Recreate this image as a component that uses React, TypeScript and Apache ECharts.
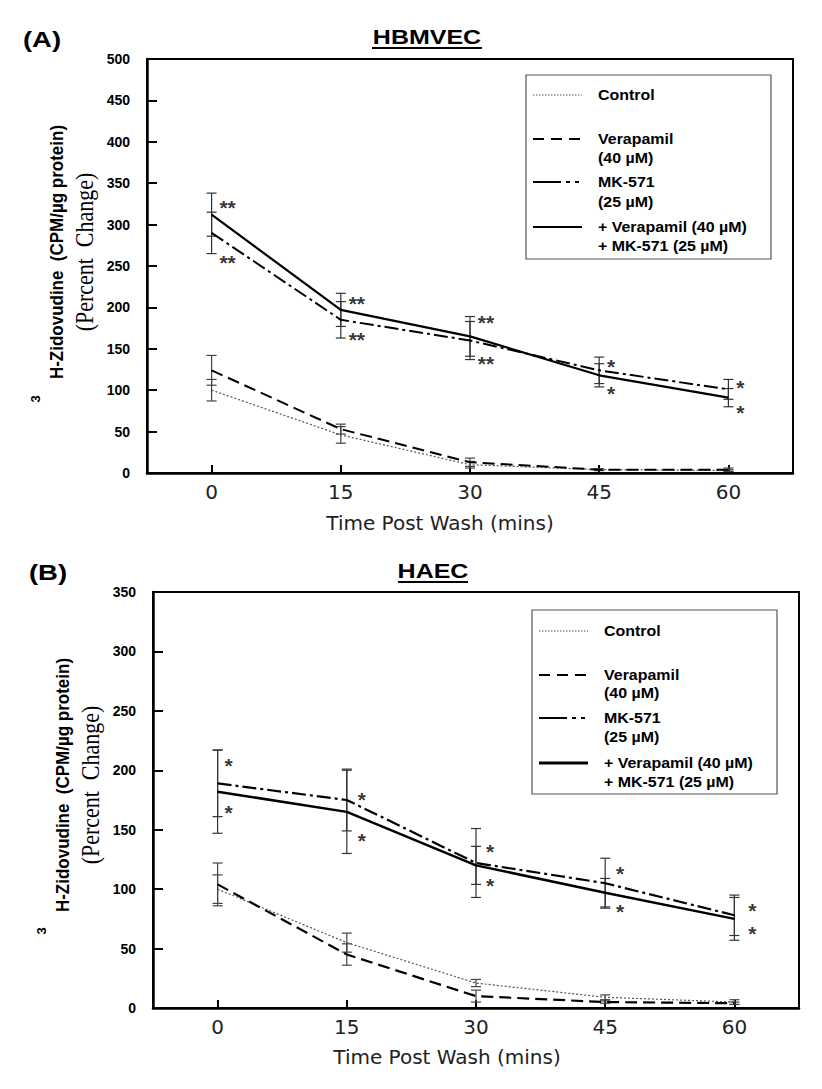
import React, { useEffect, useRef } from "react";
import * as echarts from "echarts";

// ---------- data ----------
const times = [0, 15, 30, 45, 60];
const xTickValues = [0, 15, 30, 45, 60];

// Panel A (HBMVEC)
const controlA = [100, 46, 10, 4, 3];
const controlAErr = [13, 10, 4, 1, 1];
const verapamilA = [124, 53, 13, 4, 4];
const verapamilAErr = [18, 6, 5, 1, 2];
const mkA = [290, 185, 160, 124, 101];
const mkAErr = [25, 22, 23, 16, 12];
const comboA = [312, 197, 165, 118, 91];
const comboAErr = [26, 20, 24, 14, 11];
const sigA = ["**", "**", "**", "*", "*"];
const starsAUpper = [327, 211, 188, 135, 109];
const starsALower = [260, 167, 138, 102, 79];

// Panel B (HAEC)
const controlB = [100, 55, 21, 9, 5];
const controlBErr = [12, 8, 3, 2, 2];
const verapamilB = [104, 45, 10, 5, 4];
const verapamilBErr = [18, 9, 5, 1, 1];
const mkB = [189, 175, 122, 105, 78];
const mkBErr = [28, 26, 29, 21, 17];
const comboB = [182, 165, 120, 97, 75];
const comboBErr = [35, 35, 16, 12, 18];
const sigB = ["*", "*", "*", "*", "*"];
const starsBUpper = [208, 180, 136, 117, 86];
const starsBLower = [169, 145, 107, 85, 67];

const legendLabels = [
  "Control",
  "Verapamil",
  "(40 µM)",
  "MK-571",
  "(25 µM)",
  "+ Verapamil (40 µM)",
  "+ MK-571 (25 µM)",
];
const xTitle = "Time Post Wash (mins)";
const yTitleMain = "H-Zidovudine  (CPM/µg protein)";
const yTitleSub = "(Percent  Change)";

// ---------- helpers ----------
const SANS = '"Liberation Sans", Arial, sans-serif';

function lineSeries(ax: number, vals: number[], color: string, width: number, type: any) {
  return {
    type: "line",
    xAxisIndex: ax,
    yAxisIndex: ax,
    data: times.map((t, i) => [t, vals[i]]),
    symbol: "none",
    z: 3,
    lineStyle: { color, width, type },
    silent: true,
  };
}

function errSeries(ax: number, vals: number[], errs: number[], color: string) {
  return {
    type: "custom",
    xAxisIndex: ax,
    yAxisIndex: ax,
    z: 2,
    silent: true,
    encode: { x: 0, y: 1 },
    data: times.map((t, i) => [t, vals[i], errs[i]]),
    renderItem: (params: any, api: any) => {
      const x = api.value(0);
      const v = api.value(1);
      const e = api.value(2);
      const top = api.coord([x, v + e]);
      const bot = api.coord([x, Math.max(0, v - e)]);
      const hw = 5;
      const st = { stroke: color, lineWidth: 1.2 };
      return {
        type: "group",
        children: [
          { type: "line", shape: { x1: top[0], y1: top[1], x2: bot[0], y2: bot[1] }, style: st },
          { type: "line", shape: { x1: top[0] - hw, y1: top[1], x2: top[0] + hw, y2: top[1] }, style: st },
          { type: "line", shape: { x1: bot[0] - hw, y1: bot[1], x2: bot[0] + hw, y2: bot[1] }, style: st },
        ],
      };
    },
  };
}

function starSeries(ax: number, ys: number[], sig: string[], dx: number[]) {
  return {
    type: "scatter",
    xAxisIndex: ax,
    yAxisIndex: ax,
    symbolSize: 1,
    itemStyle: { color: "transparent" },
    silent: true,
    z: 4,
    data: times.map((t, i) => ({
      value: [t, ys[i]],
      name: sig[i],
      label: { offset: [dx[i], 5] },
    })),
    label: {
      show: true,
      position: "inside",
      formatter: (p: any) => p.name,
      fontSize: 21,
      lineHeight: 16,
      fontWeight: "bold",
      fontFamily: SANS,
      color: "#000",
    },
  };
}

function txt(x: number, y: number, text: string, font: string, opts: any = {}) {
  const align = opts.align || "left";
  return {
    type: "text",
    x,
    y,
    rotation: opts.rotation || 0,
    scaleX: opts.scaleX || 1,
    scaleY: opts.scaleY || 1,
    silent: true,
    style: {
      text,
      font,
      fill: opts.fill || "#000",
      textAlign: align,
      align,
      textVerticalAlign: "middle",
      verticalAlign: "middle",
    },
  };
}

function legendGroup(bx: number, by: number, bw: number, bh: number, lx0: number, lx1: number, tx: number, rowYs: number[], thick: number) {
  const els: any[] = [];
  els.push({
    type: "rect",
    shape: { x: bx, y: by, width: bw, height: bh },
    style: { fill: "#fff", stroke: "#555", lineWidth: 1.2 },
    silent: true,
  });
  const samples = [
    { y: rowYs[0], dash: [1.5, 1.5], w: 1, c: "#555" },
    { y: rowYs[1], dash: [11, 7], w: 2, c: "#000" },
    { y: rowYs[3], dash: [28, 5, 4, 5, 4, 5], w: 2, c: "#000" },
    { y: rowYs[5], dash: null, w: thick, c: "#000" },
  ];
  samples.forEach((s) => {
    els.push({
      type: "line",
      shape: { x1: lx0, y1: s.y, x2: lx1, y2: s.y },
      style: { stroke: s.c, lineWidth: s.w, lineDash: s.dash },
      silent: true,
    });
  });
  legendLabels.forEach((l, i) => {
    els.push(txt(tx, rowYs[i], l, `bold 14px ${SANS}`, { scaleX: 1.14 }));
  });
  return els;
}

function yTitle(x1: number, x2: number, yc: number, lineEnd: number) {
  return [
    txt(x1, yc, yTitleMain, `bold 17px ${SANS}`, { align: "center", rotation: Math.PI / 2, scaleY: 1.12 }),
    txt(x2, yc, yTitleSub, `22px "Liberation Serif", "Times New Roman", serif`, { align: "center", rotation: Math.PI / 2, scaleY: 1.1 }),
    txt(x1 - 22, lineEnd + 16, "3", `bold 13px ${SANS}`, { align: "center", rotation: Math.PI / 2 }),
  ];
}

function gridAxes(idx: number, top: number, left: number, height: number, yMax: number) {
  return {
    grid: {
      left,
      top,
      width: 646,
      height,
      show: true,
      borderColor: "#000",
      borderWidth: 2,
      backgroundColor: "transparent",
      containLabel: false,
      outerBoundsMode: "none",
    },
    xAxis: {
      type: "value",
      gridIndex: idx,
      min: -7.5,
      max: 67.5,
      axisLine: { show: true, onZero: false, lineStyle: { color: "#000", width: 2.5 } },
      axisTick: { show: true, inside: true, length: 8, customValues: xTickValues, lineStyle: { color: "#000", width: 2 } },
      axisLabel: {
        show: true,
        customValues: xTickValues,
        margin: 9,
        fontSize: 20,
        fontFamily: '"DejaVu Sans", sans-serif',
        color: "#222",
      },
      splitLine: { show: false },
    },
    yAxis: {
      type: "value",
      gridIndex: idx,
      min: 0,
      max: yMax,
      interval: 50,
      axisLine: { show: true, onZero: false, lineStyle: { color: "#000", width: 2.5 } },
      axisTick: { show: true, inside: true, length: 10, lineStyle: { color: "#000", width: 2 } },
      axisLabel: { margin: 17, fontSize: 14, fontWeight: "bold", fontFamily: SANS, color: "#000" },
      splitLine: { show: false },
    },
  };
}

export default function App() {
  const ref = useRef<HTMLDivElement>(null);
  useEffect(() => {
    document.body.style.margin = "0";
    if (!ref.current) return;
    const chart = echarts.init(ref.current, undefined, { renderer: "svg" });
    const gA = gridAxes(0, 59, 147, 414, 500);
    const gB = gridAxes(1, 592, 153, 416, 350);

    const graphic: any[] = [
      // Panel A
      txt(42, 39, "(A)", `bold 22px ${SANS}`, { align: "center", scaleX: 1.25 }),
      txt(427, 37, "HBMVEC", `bold 20px ${SANS}`, { align: "center", scaleX: 1.25 }),
      { type: "line", shape: { x1: 372, y1: 48, x2: 482, y2: 48 }, style: { stroke: "#000", lineWidth: 2 }, silent: true },
      txt(440, 523, xTitle, `20px "DejaVu Sans", sans-serif`, { align: "center", fill: "#222" }),
      ...yTitle(57, 85, 252, 383),
      ...legendGroup(526, 75, 245, 184, 533, 582, 598, [95, 139, 158, 182, 202, 227, 246], 2),
      // Panel B
      txt(48, 572, "(B)", `bold 22px ${SANS}`, { align: "center", scaleX: 1.25 }),
      txt(433, 571, "HAEC", `bold 20px ${SANS}`, { align: "center", scaleX: 1.25 }),
      { type: "line", shape: { x1: 398, y1: 582, x2: 468, y2: 582 }, style: { stroke: "#000", lineWidth: 2 }, silent: true },
      txt(447, 1057, xTitle, `20px "DejaVu Sans", sans-serif`, { align: "center", fill: "#222" }),
      ...yTitle(63, 91, 785, 915),
      ...legendGroup(532, 610, 245, 184, 539, 588, 604, [631, 675, 693, 718, 737, 763, 782], 3),
    ];

    const dxA = sigA.map((s) => (s.length > 1 ? 16 : 12));
    const dxB = [11, 15, 14, 15, 18];

    chart.setOption({
      animation: false,
      backgroundColor: "#fff",
      grid: [gA.grid, gB.grid],
      xAxis: [gA.xAxis, gB.xAxis],
      yAxis: [gA.yAxis, gB.yAxis],
      graphic,
      series: [
        errSeries(0, controlA, controlAErr, "#444"),
        errSeries(0, verapamilA, verapamilAErr, "#444"),
        errSeries(0, mkA, mkAErr, "#333"),
        errSeries(0, comboA, comboAErr, "#333"),
        lineSeries(0, controlA, "#555", 1.2, [2, 2]),
        lineSeries(0, verapamilA, "#000", 2, [12, 6]),
        lineSeries(0, mkA, "#000", 2, [14, 4, 3, 4]),
        lineSeries(0, comboA, "#000", 2.2, "solid"),
        starSeries(0, starsAUpper, sigA, dxA),
        starSeries(0, starsALower, sigA, dxA),

        errSeries(1, controlB, controlBErr, "#444"),
        errSeries(1, verapamilB, verapamilBErr, "#444"),
        errSeries(1, mkB, mkBErr, "#333"),
        errSeries(1, comboB, comboBErr, "#333"),
        lineSeries(1, controlB, "#555", 1.2, [2, 2]),
        lineSeries(1, verapamilB, "#000", 2.2, [12, 6]),
        lineSeries(1, mkB, "#000", 2.2, [14, 4, 3, 4]),
        lineSeries(1, comboB, "#000", 2.5, "solid"),
        starSeries(1, starsBUpper, sigB, dxB),
        starSeries(1, starsBLower, sigB, dxB),
      ],
    });
    return () => chart.dispose();
  }, []);
  return <div ref={ref} style={{ width: 822, height: 1089 }} />;
}
